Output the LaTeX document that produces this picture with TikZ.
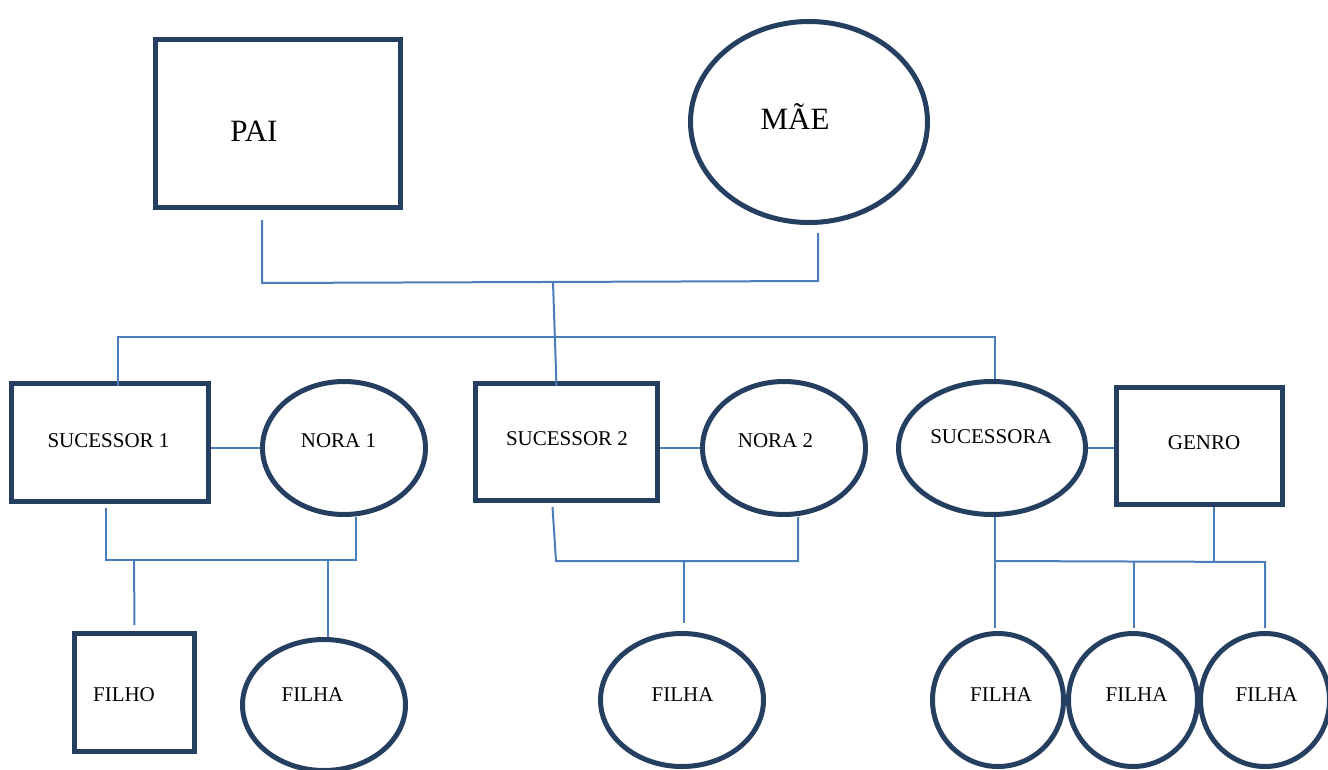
\documentclass[tikz,border=0pt]{standalone}
\usepackage{fontspec}
\setmainfont{Liberation Serif}
\usetikzlibrary{shapes.geometric,calc}
\definecolor{edgeblue}{HTML}{243F60}
\definecolor{wireblue}{HTML}{4A7EBB}
\begin{document}
\begin{tikzpicture}[x=1pt,y=-1pt,
  person/.style={draw=edgeblue,line width=5pt,inner sep=0pt},
  male/.style={person,rectangle},
  female/.style={person,ellipse},
  bigtext/.style={font=\fontsize{31}{36}\selectfont,anchor=base,inner sep=0pt},
  smalltext/.style={font=\fontsize{21}{25}\selectfont,anchor=base,inner sep=0pt},
  wire/.style={draw=wireblue,line width=2pt}]
\path[use as bounding box] (0,0) rectangle (1328,769);
\begin{scope}
\clip (0,0) rectangle (1328,769);

% first generation
\node[male,minimum width=245pt,minimum height=168pt] (pai) at (278,123.5) {};
\node[female,minimum width=237pt,minimum height=201pt] (mae) at (809,122) {};
\node[bigtext] (tpai) at (254,141) {PAI};
\node[bigtext] (tmae) at (795,129) {MÃE};

% second generation
\node[male,minimum width=197pt,minimum height=118pt] (suc1) at (110,442.5) {};
\node[female,minimum width=163pt,minimum height=133pt] (nora1) at (344,448) {};
\node[male,minimum width=182pt,minimum height=117pt] (suc2) at (566.5,442) {};
\node[female,minimum width=163pt,minimum height=133pt] (nora2) at (784,448) {};
\node[female,minimum width=187pt,minimum height=133pt] (sucA) at (992,448) {};
\node[male,minimum width=166pt,minimum height=117pt] (genro) at (1199.5,446) {};
\node[smalltext] (tsuc1) at (108.5,447) {SUCESSOR 1};
\node[smalltext] (tnora1) at (338.5,447) {NORA 1};
\node[smalltext] (tsuc2) at (567,445) {SUCESSOR 2};
\node[smalltext] (tnora2) at (775.5,447) {NORA 2};
\node[smalltext] (tsucA) at (991,443) {SUCESSORA};
\node[smalltext] (tgenro) at (1204,449) {GENRO};

% third generation
\node[male,minimum width=120pt,minimum height=118pt] (filho) at (134.5,692.5) {};
\node[female,minimum width=163pt,minimum height=131pt] (filha1) at (324,705) {};
\node[female,minimum width=163pt,minimum height=133pt] (filha2) at (682,700) {};
\node[female,minimum width=131pt,minimum height=133pt] (filha3) at (998,700) {};
\node[female,minimum width=129pt,minimum height=133pt] (filha4) at (1133,700) {};
\node[female,minimum width=129pt,minimum height=133pt] (filha5) at (1265,700) {};
\node[smalltext] (tfilho) at (124,701) {FILHO};
\node[smalltext] (tfilha1) at (312.5,701) {FILHA};
\node[smalltext] (tfilha2) at (682.5,701) {FILHA};
\node[smalltext] (tfilha3) at (1001,701) {FILHA};
\node[smalltext] (tfilha4) at (1136.5,701) {FILHA};
\node[smalltext] (tfilha5) at (1266.5,701) {FILHA};

% junction points
\coordinate (par) at (262,283);
\coordinate (parR) at (818,281);
\coordinate (trunk) at (553,282);
\coordinate (sibL) at (118,337);
\coordinate (sibR) at (995,337);
\coordinate (fam1) at (356,560);
\coordinate (fam1L) at (106,560);
\coordinate (fam2L) at (556,561);
\coordinate (fam2R) at (798,561);
\coordinate (fam3) at (995,561);
\coordinate (fam3R) at (1265,562);

% parents and their children
\draw[wire] ($(pai.south)+(-16,10)$) -- (par) -- (parR) -- ($(mae.south)+(9,8)$);
\draw[wire] (trunk) -- ($(suc2.north)+(-10,5)$);
\draw[wire] ($(suc1.north)+(8,5)$) -- (sibL) -- (sibR) -- ($(sucA.north)+(3,0)$);

% couples
\draw[wire] (nora1.west) -- (nora1.west -| suc1.east);
\draw[wire] (nora2.west) -- (nora2.west -| suc2.east);
\draw[wire] (sucA.east) -- (sucA.east -| genro.west);

% first family
\draw[wire] ($(suc1.south)+(-4,4)$) -- (fam1L) -- (fam1) -- ($(nora1.south)+(12,0)$);
\draw[wire] (134,560) -- ($(filho.north)+(0,-6)$);
\draw[wire] (328,560) -- ($(filha1.north)+(4,0)$);

% second family
\draw[wire] ($(suc2.south)+(-14,4)$) -- (fam2L) -- (fam2R) -- ($(nora2.south)+(14,0)$);
\draw[wire] (684,561) -- ($(filha2.north)+(2,-8)$);

% third family
\draw[wire] (sucA.south) ++(3,0) -- ($(filha3.north)+(-3,-3)$);
\draw[wire] (fam3) -- (fam3R) -- ($(filha5.north)+(0,-3)$);
\draw[wire] ($(genro.south)+(14.5,0)$) -- (1214,561.5);
\draw[wire] (1134,561.5) -- ($(filha4.north)+(1,-3)$);
\end{scope}
\end{tikzpicture}
\end{document}
